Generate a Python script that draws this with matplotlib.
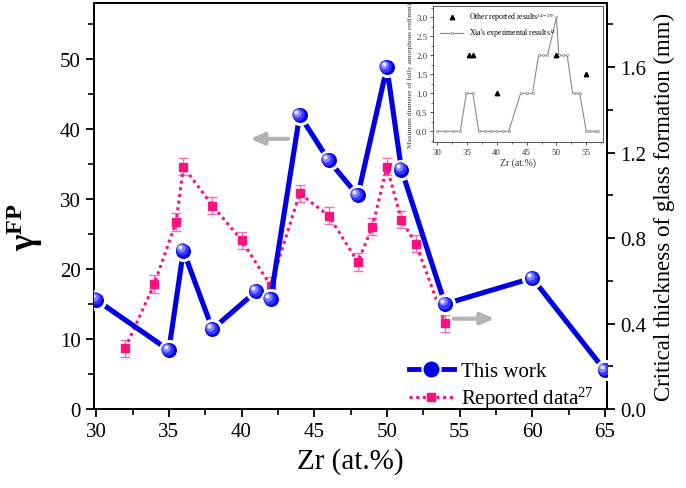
import matplotlib
matplotlib.use('Agg')
import matplotlib.pyplot as plt
from matplotlib.ticker import MultipleLocator, FormatStrFormatter
from matplotlib.transforms import offset_copy

plt.rcParams['font.family'] = 'Liberation Serif'
plt.rcParams['mathtext.fontset'] = 'custom'
plt.rcParams['mathtext.rm'] = 'Liberation Serif'
plt.rcParams['mathtext.it'] = 'Liberation Serif:italic'
plt.rcParams['mathtext.bf'] = 'Liberation Serif:bold'

# --- data ---
# this work: gamma^FP (left axis)
zr_this = [30, 35, 36, 38, 41, 42, 44, 46, 48, 50, 51, 54, 60, 65]
gamma_fp = [15.6, 8.4, 22.6, 11.4, 16.8, 15.7, 42.0, 35.5, 30.5, 48.8, 34.2, 15.0, 18.7, 5.5]

# reported data: critical thickness in mm (right axis)
zr_rep = [32, 34, 35.5, 36, 38, 40, 42, 44, 46, 48, 49, 50, 51, 52, 54]
thick_rep = [0.285, 0.585, 0.875, 1.133, 0.952, 0.79, 0.577, 1.009, 0.904, 0.688, 0.852, 1.133, 0.885, 0.773, 0.401]
thick_err = [0.04] * len(zr_rep)

# inset: Xia's experimental results and other reported results
zr_xia = [30, 31.3, 32.6, 33.9, 34.9, 36, 37, 38, 39, 40, 41, 42, 44, 45, 46, 47, 47.75, 48.5,
          50, 50.4, 51.1, 51.8, 52.7, 53.3, 53.9, 55, 55.7, 56.4, 57]
dia_xia = [0, 0, 0, 0, 1, 1, 0, 0, 0, 0, 0, 0, 1, 1, 1, 2, 2, 2,
           3, 2, 2, 2, 1, 1, 1, 0, 0, 0, 0]
zr_other = [35.4, 36.0, 40, 50, 55]
dia_other = [2.0, 2.0, 1.0, 2.0, 1.5]

blue = '#0000e6'
pink = '#ff1080'

fig = plt.figure(figsize=(6.86, 4.89), dpi=100)
ax = fig.add_axes([0.137, 0.1616, 0.748, 0.8302])
ax2 = ax.twinx()

# reported data on the right axis
ax2.errorbar(zr_rep, thick_rep, yerr=thick_err, color=pink, ls=(0, (1, 1.2)), lw=2.2,
             marker='s', ms=5.5, mec=pink, ecolor='#f070b0', elinewidth=1.0, capsize=3.5,
             capthick=1.0, zorder=2)
ax2.set_ylim(0, 1.9)
ax2.yaxis.set_major_locator(MultipleLocator(0.4))
ax2.yaxis.set_minor_locator(MultipleLocator(0.2))
ax2.yaxis.set_major_formatter(FormatStrFormatter('%.1f'))
ax2.set_ylabel('Critical thickness of glass formation (mm)', fontsize=16.5, labelpad=5)

# this work on the left axis, drawn above the right axis
ax.set_zorder(ax2.get_zorder() + 1)
ax.patch.set_visible(False)
ax.plot(zr_this, gamma_fp, color=blue, lw=3.7, zorder=3)
ax.plot(zr_this, gamma_fp, ls='none', marker='o', ms=13, mfc=blue, mec='white', mew=2.2, zorder=4)
# sphere-like highlight
for ms, col, dx in [(9, '#3535ff', -1.0), (6, '#7f7fff', -1.8), (3, '#e8e8ff', -2.4)]:
    tr = offset_copy(ax.transData, fig=fig, x=dx, y=-dx, units='points')
    ax.plot(zr_this, gamma_fp, ls='none', marker='o', ms=ms, mfc=col, mec='none',
            transform=tr, zorder=5)

# legend proxies
h1, = ax.plot([], [], color=blue, lw=3.5, marker='o', ms=13, mfc=blue, mec='white', mew=1.5)
h2, = ax.plot([], [], color=pink, ls=(0, (1, 1.2)), lw=2.2, marker='s', ms=5.5)
ax.legend([h1, h2], ['This work', 'Reported data$^{27}$'], loc='lower right',
          bbox_to_anchor=(1.01, -0.052), frameon=False, fontsize=15, handlelength=2.2,
          handletextpad=0.3, labelspacing=0.2)

# gray arrows pointing to the axes
ax.annotate('', xy=(40.4, 38.6), xytext=(43.4, 38.6),
            arrowprops=dict(arrowstyle='-|>,head_length=0.8,head_width=0.35', color='#b4b4b4', lw=3))
ax.annotate('', xy=(57.6, 12.9), xytext=(54.4, 12.9),
            arrowprops=dict(arrowstyle='-|>,head_length=0.8,head_width=0.35', color='#b4b4b4', lw=3))

ax.set_xlim(29.85, 65.15)
ax.set_ylim(0, 58)
ax.xaxis.set_major_locator(MultipleLocator(5))
ax.xaxis.set_minor_locator(MultipleLocator(2.5))
ax.yaxis.set_major_locator(MultipleLocator(10))
ax.yaxis.set_minor_locator(MultipleLocator(5))
ax.set_xlabel('Zr (at.%)', fontsize=21)
ax.set_ylabel('γ$^{\\mathbf{FP}}$', fontsize=25, fontweight='bold')
ax.yaxis.set_label_coords(-0.095, 0.45)

for a in (ax, ax2):
    a.tick_params(which='major', direction='out', length=6, width=1.3, labelsize=15)
    a.tick_params(which='minor', direction='out', length=4, width=1.2)
    for s in a.spines.values():
        s.set_linewidth(1.4)
ax.tick_params(top=False, which='both')

# inset
axi = fig.add_axes([0.631, 0.7076, 0.248, 0.278])
axi.set_facecolor('white')
axi.plot(zr_xia, dia_xia, color='#8a8a8a', lw=0.8, marker='o', ms=1.6, mfc='white',
         mec='#8a8a8a', mew=0.5, label="Xia's experimental results$^{12}$")
axi.plot(zr_other, dia_other, ls='none', marker='^', ms=3.2, color='black',
         label='Other reported results$^{24-29}$')
hh, ll = axi.get_legend_handles_labels()
axi.legend(hh[::-1], ll[::-1], loc='upper left', bbox_to_anchor=(0.0, 1.02), frameon=False,
           fontsize=5.6, handlelength=3, labelspacing=0.4)
axi.set_xlim(29.3, 57.8)
axi.set_ylim(-0.28, 3.3)
axi.xaxis.set_major_locator(MultipleLocator(5))
axi.xaxis.set_minor_locator(MultipleLocator(2.5))
axi.yaxis.set_major_locator(MultipleLocator(0.5))
axi.yaxis.set_minor_locator(MultipleLocator(0.25))
axi.yaxis.set_major_formatter(FormatStrFormatter('%.1f'))
axi.tick_params(which='major', direction='out', length=2.5, width=0.6, labelsize=6.3, pad=1.5,
                colors='#333333')
axi.tick_params(which='minor', direction='out', length=1.5, width=0.5, colors='#333333')
for s in axi.spines.values():
    s.set_linewidth(0.7)
    s.set_color('#555555')
axi.set_xlabel('Zr (at.%)', fontsize=7, labelpad=1, color='#333333')
axi.set_ylabel('Maximum diameter of fully amorphous rod(mm)', fontsize=5.3, labelpad=2,
               color='#333333')

fig.savefig('out.png', dpi=100)
